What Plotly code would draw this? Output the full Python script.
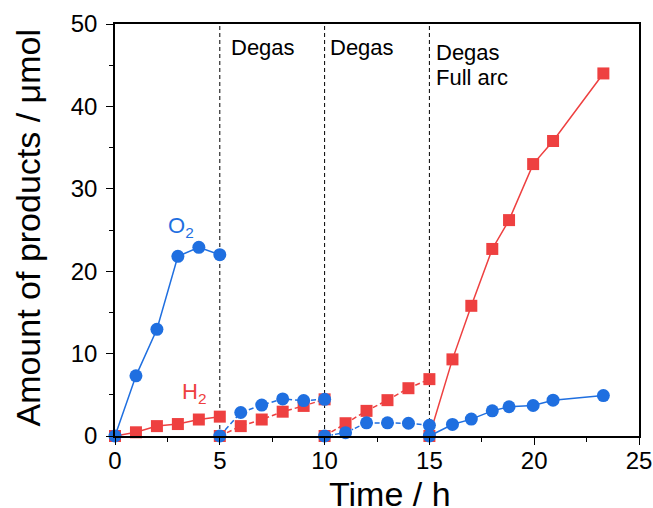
import plotly.graph_objects as go

# Irradiation runs, each restarted after degassing at 5 h, 10 h and 15 h
t_run1 = [0, 1, 2, 3, 4, 5]
o2_run1 = [0, 7.3, 12.95, 21.8, 22.9, 22.0]
h2_run1 = [0, 0.45, 1.2, 1.45, 2.0, 2.35]

t_run2 = [5, 6, 7, 8, 9, 10]
o2_run2 = [0, 2.85, 3.75, 4.5, 4.3, 4.45]
h2_run2 = [0, 1.2, 2.0, 2.95, 3.65, 4.45]

t_run3 = [10, 11, 12, 13, 14, 15]
o2_run3 = [0, 0.4, 1.6, 1.6, 1.55, 1.3]
h2_run3 = [0, 1.55, 3.05, 4.35, 5.8, 6.9]

t_run4 = [15, 16.1, 17.0, 18.0, 18.8, 19.95, 20.9, 23.3]
o2_run4 = [0, 1.4, 2.05, 3.05, 3.55, 3.7, 4.35, 4.9]
h2_run4 = [0, 9.3, 15.8, 22.7, 26.2, 33.0, 35.8, 44.0]

degas_times = [5, 10, 15]
x_ticks = [0, 5, 10, 15, 20, 25]
y_ticks = [0, 10, 20, 30, 40, 50]

BLUE = "#1f6fe0"
RED = "#ee4040"
FONT = "Arial, Liberation Sans, sans-serif"

runs = [
    (t_run1, o2_run1, h2_run1, "solid", "solid"),
    (t_run2, o2_run2, h2_run2, "5px,3px", "5px,3px"),
    (t_run3, o2_run3, h2_run3, "5px,2px,1.5px,2px", "5px,3px"),
    (t_run4, o2_run4, h2_run4, "solid", "solid"),
]

fig = go.Figure()

# H2 squares first so the O2 circles sit on top
for t, o2, h2, o2_dash, h2_dash in runs:
    fig.add_trace(go.Scatter(
        x=t, y=h2, mode="lines+markers",
        line=dict(color=RED, width=1.5, dash=h2_dash),
        marker=dict(symbol="square", size=12, color=RED),
        showlegend=False, cliponaxis=False,
    ))
for t, o2, h2, o2_dash, h2_dash in runs:
    fig.add_trace(go.Scatter(
        x=t, y=o2, mode="lines+markers",
        line=dict(color=BLUE, width=1.5, dash=o2_dash),
        marker=dict(symbol="circle", size=13, color=BLUE),
        showlegend=False, cliponaxis=False,
    ))

for td in degas_times:
    fig.add_shape(type="line", x0=td, x1=td, y0=0, y1=1, xref="x", yref="paper",
                  line=dict(color="black", width=1, dash="4px,3px"), layer="below")

labels = [
    (5.42, 47.1, "Degas"),
    (10.16, 47.1, "Degas"),
    (15.22, 46.6, "Degas"),
    (15.22, 43.5, "Full arc"),
]
for x, y, txt in labels:
    fig.add_annotation(x=x, y=y, text=txt, showarrow=False, xanchor="left",
                       yanchor="middle", font=dict(size=22, color="black", family=FONT))

fig.add_annotation(x=2.45, y=25.4, text="O<sub>2</sub>", showarrow=False,
                   xanchor="left", yanchor="middle",
                   font=dict(size=22, color=BLUE, family=FONT))
fig.add_annotation(x=3.1, y=5.2, text="H<sub>2</sub>", showarrow=False,
                   xanchor="left", yanchor="middle",
                   font=dict(size=22, color=RED, family=FONT))

# Axis titles
fig.add_annotation(x=0.525, y=-0.141, xref="paper", yref="paper", text="Time / h",
                   showarrow=False, xanchor="center", yanchor="middle",
                   font=dict(size=34, color="black", family=FONT))
fig.add_annotation(x=-0.166, y=0.506, xref="paper", yref="paper",
                   text="Amount of products / μmol", textangle=-90,
                   showarrow=False, xanchor="center", yanchor="middle",
                   font=dict(size=34, color="black", family=FONT))

axis_common = dict(
    showline=True, linecolor="black", linewidth=1.5, mirror=True,
    ticks="outside", ticklen=7, tickwidth=1.2, tickcolor="black",
    showgrid=False, zeroline=False, automargin=False,
    tickfont=dict(size=24, color="black", family=FONT),
)

fig.update_xaxes(
    range=[0, 25], tickvals=x_ticks, ticklabelstandoff=-5,
    minor=dict(ticks="outside", ticklen=4, dtick=2.5, tick0=0, tickcolor="black", tickwidth=1.2),
    **axis_common,
)
fig.update_yaxes(
    range=[0, 50], tickvals=y_ticks, ticklabelstandoff=4,
    minor=dict(ticks="outside", ticklen=4, dtick=5, tick0=0, tickcolor="black", tickwidth=1.2),
    **axis_common,
)

fig.update_layout(
    width=653, height=508,
    margin=dict(l=115, r=14, t=24, b=72),
    paper_bgcolor="white", plot_bgcolor="white",
    font=dict(family=FONT, color="black"),
)

fig.write_html("out.html")
